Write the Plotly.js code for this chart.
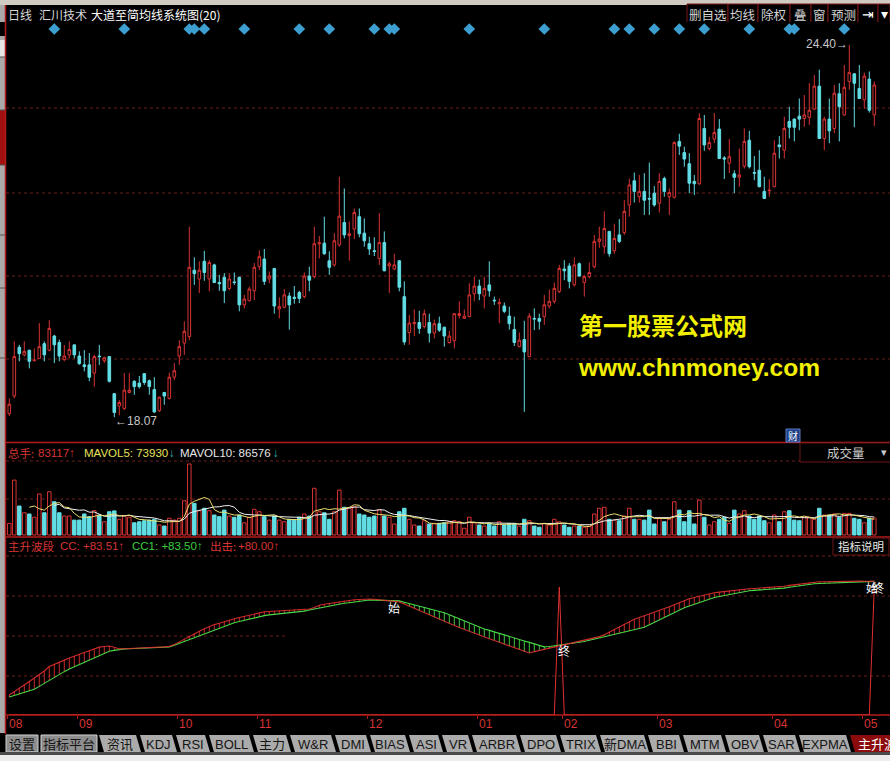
<!DOCTYPE html>
<html>
<head>
<meta charset="utf-8">
<script src="https://cdn.plot.ly/plotly-3.0.1.min.js"></script>
<style>
html,body{margin:0;padding:0;background:#000;overflow:hidden;}
#chart{width:890px;height:761px;}
</style>
</head>
<body>
<div id="chart"></div>
<script>
// ---- daily bars, 汇川技术 ----
const open = [18.13,18.43,19.26,19.13,19.21,19.03,19.07,19.32,19.21,19.45,
19.34,19.05,19.13,19.30,19.11,18.96,18.96,18.82,19.11,19.03,
19.10,18.47,18.26,18.22,18.49,18.68,18.65,18.81,18.69,18.54,
18.18,18.49,18.39,18.75,19.11,19.33,19.44,20.57,20.42,20.72,
20.42,20.66,20.36,20.45,20.26,20.37,20.45,19.98,20.05,20.22,
20.63,20.76,20.42,20.60,19.91,19.94,20.13,20.11,20.19,20.12,
20.47,20.46,21.02,21.03,20.73,20.66,21.00,21.38,21.16,21.27,
21.48,21.20,21.02,20.90,20.77,21.04,20.64,20.59,20.73,20.12,
19.51,19.66,19.68,19.61,19.68,19.50,19.66,19.60,19.34,19.37,
19.80,19.75,19.78,20.17,20.30,20.13,20.32,20.06,20.00,19.96,
19.79,19.56,19.27,19.39,19.10,19.75,19.75,19.78,19.96,20.04,
20.21,20.59,20.64,20.32,20.68,20.36,20.46,20.63,21.06,20.97,
21.23,20.90,21.17,21.21,21.68,22.09,21.82,21.91,21.79,21.88,
21.71,22.13,21.82,21.81,22.76,22.57,22.38,22.08,22.04,22.98,
22.64,22.80,22.97,22.48,22.39,22.21,22.15,22.34,22.78,22.23,
22.27,21.91,21.92,21.99,22.70,22.61,23.10,23.14,23.19,23.15,
23.17,23.31,23.70,22.81,23.14,22.98,23.57,23.21,23.78,23.91,
23.66,23.47,23.82,23.21];
const high = [18.39,19.36,19.30,19.36,19.21,19.24,19.67,19.36,19.72,19.47,
19.39,19.30,19.36,19.30,19.19,19.21,19.16,19.13,19.30,19.10,
19.11,18.48,18.36,18.82,18.82,18.70,18.77,18.82,18.71,18.75,
18.42,18.50,18.83,18.99,19.38,19.70,21.31,20.79,20.72,20.90,
20.74,20.68,20.49,20.52,20.52,20.53,20.46,20.15,20.29,20.69,
20.91,20.93,20.55,20.60,20.11,20.25,20.19,20.30,20.22,20.53,
20.63,21.31,21.15,21.48,20.89,21.20,22.16,21.96,21.40,21.62,
21.62,21.45,21.14,21.13,21.54,21.23,20.72,20.85,20.74,20.38,
19.81,19.90,19.88,19.90,19.83,19.73,19.78,19.61,19.54,19.84,
20.04,19.90,20.35,20.46,20.41,20.46,20.72,20.12,20.09,20.02,
19.95,19.78,19.51,19.71,19.84,19.92,19.83,20.15,20.24,20.36,
20.66,20.74,20.69,20.79,20.70,20.49,20.70,21.17,21.31,21.57,
21.23,21.36,21.44,21.76,22.13,22.23,22.19,22.22,22.40,22.00,
22.22,22.16,21.96,22.76,22.89,22.67,22.56,22.19,23.24,23.21,
22.84,23.24,23.14,22.51,22.80,22.27,22.64,22.98,22.94,22.51,
22.61,22.16,22.12,22.78,22.85,23.18,23.35,23.15,23.49,23.55,
23.75,23.89,23.98,23.18,23.49,23.72,23.75,24.06,24.40,23.92,
24.06,23.93,23.95,23.78];
const low = [18.09,18.39,19.02,19.10,18.90,19.02,19.07,19.02,19.19,18.99,
19.02,19.02,19.07,19.07,18.96,18.85,18.68,18.59,18.96,18.99,
18.66,18.07,18.10,18.19,18.48,18.45,18.56,18.62,18.45,18.14,
18.16,18.28,18.37,18.70,18.96,19.13,19.38,20.32,20.18,20.39,
20.21,20.36,20.22,20.01,20.23,20.32,19.87,19.92,20.04,20.06,
20.57,20.32,20.35,19.83,19.75,19.92,19.56,20.00,20.01,20.09,
20.21,20.43,20.77,20.83,20.49,20.63,20.97,21.11,20.73,21.10,
21.13,20.97,20.83,20.81,20.66,20.55,20.18,20.57,20.21,19.30,
19.30,19.45,19.49,19.58,19.34,19.41,19.52,19.27,19.32,19.24,
19.75,19.74,19.77,20.04,20.06,19.92,20.12,19.98,19.67,19.84,
19.56,19.28,19.26,18.16,19.09,19.55,19.56,19.64,19.92,20.00,
20.18,20.40,20.26,20.29,20.46,20.12,20.43,20.60,20.95,20.85,
20.80,20.85,21.03,21.17,21.48,21.72,21.72,21.51,21.51,21.65,
21.55,21.82,21.51,21.79,22.53,22.33,21.88,21.85,22.02,22.60,
22.61,22.73,22.46,22.12,22.22,21.88,21.99,22.30,22.30,22.10,
21.98,21.78,21.82,21.98,22.47,22.47,22.81,22.76,22.95,23.01,
23.04,23.29,22.80,22.61,22.73,22.90,22.76,23.20,23.64,23.00,
23.48,23.32,23.25,23.02];
const close = [18.29,19.10,19.15,19.19,19.02,19.04,19.27,19.13,19.58,19.30,
19.11,19.11,19.22,19.13,18.98,18.93,18.75,19.10,19.10,19.08,
18.68,18.15,18.32,18.53,18.53,18.59,18.59,18.66,18.59,18.16,
18.41,18.43,18.75,18.86,19.27,19.53,20.62,20.51,20.57,20.53,
20.70,20.36,20.34,20.22,20.42,20.36,19.98,20.08,20.25,20.62,
20.80,20.38,20.47,19.96,19.95,20.15,19.98,20.09,20.09,20.47,
20.40,21.02,21.04,20.85,20.62,21.07,21.49,21.17,21.19,21.55,
21.19,21.07,20.93,20.89,21.04,20.56,20.68,20.66,20.28,19.35,
19.67,19.68,19.58,19.83,19.50,19.66,19.55,19.45,19.45,19.83,
19.83,19.79,20.15,20.30,20.17,20.26,20.22,20.05,20.02,19.87,
19.66,19.34,19.38,19.18,19.79,19.74,19.70,19.98,20.04,20.26,
20.60,20.56,20.38,20.66,20.47,20.46,20.53,21.06,21.10,21.28,
20.85,21.11,21.06,21.57,22.02,21.91,21.91,21.76,21.78,21.68,
22.08,21.91,21.89,22.74,22.68,22.46,22.05,22.04,23.15,22.70,
22.74,22.91,22.47,22.46,22.50,22.15,22.19,22.76,22.33,22.22,
21.99,21.79,21.93,22.56,22.67,22.98,23.00,23.00,23.14,23.21,
23.29,23.70,22.81,23.14,22.94,23.58,23.35,23.68,23.93,23.75,
23.49,23.87,23.29,23.72];
// 总手 (lots)
const volume = [57000,269000,142000,109000,103000,87000,201000,109000,212000,163000,
109000,93000,93000,73000,73000,103000,90000,119000,98000,65000,
114000,118000,77000,93000,87000,60000,65000,70000,73000,77000,
49000,44000,82000,73000,82000,168000,348000,155000,119000,131000,
119000,98000,90000,122000,93000,87000,98000,60000,87000,126000,
114000,90000,73000,93000,73000,65000,77000,73000,87000,103000,
93000,229000,114000,109000,77000,114000,220000,136000,131000,139000,
103000,98000,87000,93000,122000,93000,87000,54000,114000,131000,
77000,49000,44000,70000,54000,57000,57000,60000,65000,70000,
65000,33000,87000,60000,49000,44000,57000,44000,65000,49000,
57000,57000,44000,77000,70000,44000,38000,57000,49000,77000,
65000,49000,38000,44000,44000,38000,44000,103000,131000,136000,
77000,73000,70000,93000,131000,77000,77000,73000,122000,54000,
82000,65000,77000,163000,122000,65000,119000,54000,171000,87000,
49000,65000,77000,87000,57000,122000,103000,119000,93000,77000,
93000,70000,60000,98000,65000,114000,119000,73000,70000,87000,
87000,77000,131000,98000,98000,103000,87000,106000,106000,82000,
77000,60000,82000,83117];
// 主升波段 indicator
const cc = [12.5,14.5,16.6,18.7,20.9,23.1,25.3,27.5,30.3,31.8,
33.0,34.3,35.6,36.9,38.1,39.1,40.2,41.3,42.4,42.8,
43.1,42.3,41.3,41.4,41.5,41.6,41.7,41.8,42.0,42.2,
42.4,42.6,42.9,44.0,45.7,47.4,49.5,51.0,52.4,53.9,
55.3,56.5,57.4,58.4,59.3,60.1,60.9,61.6,62.3,63.1,
63.8,64.5,64.7,64.9,65.1,65.3,65.5,65.7,65.9,66.1,
66.2,67.2,68.6,69.2,69.7,70.2,70.8,71.3,71.8,72.0,
72.2,72.4,72.5,72.3,72.0,71.7,71.3,71.0,70.7,69.4,
68.0,66.6,65.2,63.8,62.5,61.1,59.7,58.3,57.1,55.9,
54.7,53.6,52.4,51.2,50.0,48.9,47.7,46.5,45.4,44.2,
43.0,41.9,40.7,39.5,38.8,39.6,40.3,41.0,41.7,42.4,
43.1,43.8,44.4,45.1,45.8,46.6,47.4,48.2,49.0,50.2,
51.9,53.5,55.2,56.9,58.5,59.9,60.9,62.0,63.0,64.0,
65.1,66.2,67.6,68.9,70.3,71.7,72.6,73.4,74.2,75.0,
75.8,76.4,76.8,77.2,77.6,78.0,78.3,78.7,78.9,79.1,
79.3,79.5,79.7,79.9,80.1,80.5,81.0,81.4,81.9,82.4,
82.8,83.2,83.3,83.3,83.4,83.4,83.5,83.6,83.7,83.7,
83.7,83.6,83.55,83.51];
const cc1 = [11.2,12.1,13.0,14.0,14.9,16.1,17.9,19.8,21.6,23.5,
25.3,27.1,28.7,30.1,31.5,32.9,34.2,35.6,37.0,38.4,
39.8,40.4,40.9,41.3,41.4,41.5,41.7,41.8,41.9,42.1,
42.2,42.3,42.5,43.6,44.8,46.1,47.3,48.6,49.8,51.0,
52.1,53.2,54.4,55.5,56.7,57.7,58.4,59.2,59.9,60.6,
61.4,62.1,62.6,62.9,63.2,63.5,63.8,64.1,64.4,64.9,
65.6,66.2,66.9,67.5,68.2,68.9,69.3,69.8,70.2,70.7,
71.2,71.6,71.9,71.8,71.7,71.6,71.5,71.4,71.3,70.5,
69.7,68.8,68.0,67.2,66.3,65.5,64.7,63.9,62.6,61.3,
60.0,58.6,57.3,56.0,54.8,53.8,52.9,51.9,51.0,50.1,
49.1,48.2,47.3,46.3,45.4,44.5,43.6,42.6,42.8,43.2,
43.6,43.9,44.3,44.7,45.2,45.9,46.7,47.4,48.2,48.9,
49.6,50.3,51.1,51.9,52.6,53.4,54.1,54.9,56.4,58.0,
59.6,61.2,62.8,64.4,65.9,67.0,68.1,69.2,70.3,71.4,
72.5,73.4,74.1,74.7,75.4,76.1,76.7,77.4,77.7,77.9,
78.1,78.3,78.5,78.7,78.9,79.3,79.8,80.3,80.7,81.2,
81.6,82.0,82.2,82.3,82.5,82.6,82.8,82.9,83.1,83.2,
83.4,83.5,83.5,83.50];
const strikeBars = [110, 173];   // 出击 signal bars
const strikeLevel = 80;
const startBars = [77, 173];     // 始
const endBars = [111, 173];      // 终
const newsBars = [9,23,36,37,39,47,58,64,73,76,77,92,107,121,124,129,134,139,148,156,157,167];
const monthLabels = ['08','09','10','11','12','01','02','03','04','05'];
const monthStart = [0,14,34,50,72,94,111,130,153,171];
const tabLabels = ['设置','指标平台','资讯','KDJ','RSI','BOLL','主力','W&R','DMI','BIAS','ASI','VR','ARBR','DPO','TRIX','新DMA','BBI','MTM','OBV','SAR','EXPMA','主升波段'];
const toolLabels = ['删自选','均线','除权','叠','窗','预测','⇥','▾'];

// ---- page geometry (pixels) ----
const W = 890, H = 761;
const px = x => x / W;
const py = y => 1 - y / H;

const RED = '#d83434', CYAN = '#62dde4', FRAME = '#b41a1a', GRID = '#6a1c1c';
const CJK = 'Noto Sans CJK SC, Liberation Sans, sans-serif';
const LAT = 'Liberation Sans, Noto Sans CJK SC, sans-serif';

const idx = close.map((_, i) => i);
const isUp = close.map((c, i) => c >= open[i]);

// moving averages of volume
function movingAvg(arr, n) {
  return arr.map((_, i) => {
    if (i < n - 1) return null;
    let s = 0;
    for (let k = i - n + 1; k <= i; k++) s += arr[k];
    return s / n;
  });
}
const mavol5 = movingAvg(volume, 5);
const mavol10 = movingAvg(volume, 10);

// hatch segments between CC and CC1
const hatchRedX = [], hatchRedY = [], hatchGrnX = [], hatchGrnY = [];
idx.forEach(i => {
  if (cc[i] >= cc1[i]) { hatchRedX.push(i, i, null); hatchRedY.push(cc1[i], cc[i], null); }
  else { hatchGrnX.push(i, i, null); hatchGrnY.push(cc[i], cc1[i], null); }
});
const strike = idx.map(i => strikeBars.includes(i) ? strikeLevel : 0);

const traces = [
  {
    type: 'candlestick', x: idx, open: open, high: high, low: low, close: close,
    xaxis: 'x', yaxis: 'y',
    increasing: {line: {color: RED, width: 1}, fillcolor: '#000000'},
    decreasing: {line: {color: CYAN, width: 1}, fillcolor: CYAN},
    whiskerwidth: 0, hoverinfo: 'skip'
  },
  {
    type: 'scatter', mode: 'markers', x: newsBars, y: newsBars.map(() => 0.5),
    xaxis: 'x', yaxis: 'y4',
    marker: {symbol: 'diamond', size: 9, color: '#3d9fcf'}, hoverinfo: 'skip'
  },
  {
    type: 'bar', x: idx, y: volume, xaxis: 'x', yaxis: 'y2', width: 0.7,
    marker: {color: isUp.map(u => u ? '#000000' : CYAN),
             line: {color: isUp.map(u => u ? RED : CYAN), width: 1}},
    hoverinfo: 'skip'
  },
  {type: 'scatter', mode: 'lines', x: idx, y: mavol10, xaxis: 'x', yaxis: 'y2',
   line: {color: '#f2f2f2', width: 1}, hoverinfo: 'skip'},
  {type: 'scatter', mode: 'lines', x: idx, y: mavol5, xaxis: 'x', yaxis: 'y2',
   line: {color: '#ece070', width: 1}, hoverinfo: 'skip'},
  {type: 'scatter', mode: 'lines', x: hatchRedX, y: hatchRedY, xaxis: 'x', yaxis: 'y3',
   line: {color: '#c62828', width: 1}, hoverinfo: 'skip'},
  {type: 'scatter', mode: 'lines', x: hatchGrnX, y: hatchGrnY, xaxis: 'x', yaxis: 'y3',
   line: {color: '#3ec83e', width: 1}, hoverinfo: 'skip'},
  {type: 'scatter', mode: 'lines', x: idx, y: strike, xaxis: 'x', yaxis: 'y3',
   line: {color: '#e03030', width: 1}, hoverinfo: 'skip'},
  {type: 'scatter', mode: 'lines', x: idx, y: cc1, xaxis: 'x', yaxis: 'y3',
   line: {color: '#48d848', width: 1.1}, hoverinfo: 'skip'},
  {type: 'scatter', mode: 'lines', x: idx, y: cc, xaxis: 'x', yaxis: 'y3',
   line: {color: '#e03030', width: 1.1}, opacity: 0.9, hoverinfo: 'skip'}
];

// ---- frame, grid, tab bar ----
const shapes = [];
const rect = (x0, y0, x1, y1, fill, line, lw) => shapes.push({
  type: 'rect', xref: 'paper', yref: 'paper', x0: px(x0), x1: px(x1), y0: py(y1), y1: py(y0),
  fillcolor: fill, line: {color: line || 'rgba(0,0,0,0)', width: lw || 0}, layer: 'below'
});
const hline = (y, x0, x1, color, w, dash) => shapes.push({
  type: 'line', xref: 'paper', yref: 'paper', x0: px(x0), x1: px(x1), y0: py(y), y1: py(y),
  line: {color: color, width: w, dash: dash || 'solid'}, layer: 'below'
});
const vline = (x, y0, y1, color, w) => shapes.push({
  type: 'line', xref: 'paper', yref: 'paper', x0: px(x), x1: px(x), y0: py(y0), y1: py(y1),
  line: {color: color, width: w}
});

// top strip and left edge
rect(0, 0, 890, 5, '#cfcbc3');
rect(0, 5, 5, 734, '#a9a9a9');
rect(0, 40, 5, 57, '#e6e6e6');
rect(0, 110, 5, 165, '#a01010');
[57, 110, 165, 235, 288, 358].forEach(y => shapes.push({type: 'line', xref: 'paper', yref: 'paper',
  x0: 0, x1: px(5), y0: py(y), y1: py(y), line: {color: '#555', width: 1}}));

// dotted grid
[29, 108, 193, 276, 359, 461, 499, 556, 596, 676].forEach(y => hline(y, 6, 890, GRID, 1, 'dot'));
hline(636, 6, 285, GRID, 1, 'dot');

// panel frame
vline(5.5, 5, 734, FRAME, 1.5);
hline(442.5, 5, 890, FRAME, 1.5);
hline(537, 5, 890, FRAME, 1.5);
hline(715, 5, 890, FRAME, 1.5);

// top-right tool buttons
const toolEdges = [687, 728, 758, 790, 811, 828, 858, 878, 890];
toolLabels.forEach((t, k) => rect(toolEdges[k], 4, toolEdges[k + 1], 24, '#000000', '#7a1616', 1));

// 成交量 and 指标说明 boxes
rect(800, 443, 891, 462, '#000000', '#6e1616', 1);
rect(833, 538, 889, 555, '#000000', '#6e1616', 1);
// 财 badge
rect(786, 429, 800, 442, '#1d3f86', '#5a78c0', 1);

// bottom tab bar
rect(0, 733, 890, 753, '#000000');
const tabEdges = [5, 38, 40, 97, 98, 139, 175, 208, 252, 289, 334, 369, 408, 441, 471, 519, 559, 599, 647, 682, 724, 762, 798, 849, 896];
const tabCenters = [];
tabLabels.forEach((t, k) => {
  let l, r;
  if (k === 0) { l = tabEdges[0]; r = tabEdges[1]; }
  else if (k === 1) { l = tabEdges[2]; r = tabEdges[3]; }
  else { l = tabEdges[k + 2]; r = tabEdges[k + 3]; }
  const active = k === tabLabels.length - 1;
  if (k < 2) {
    rect(l + 1, 735, r, 752, '#8e8e8e', '#d0d0d0', 1);
  } else {
    const top = 735, bot = 752;
    shapes.push({type: 'path', xref: 'paper', yref: 'paper',
      path: `M ${px(l + 1)},${py(top)} L ${px(r - 3)},${py(top)} L ${px(r + 2)},${py(bot)} L ${px(l + 6)},${py(bot)} Z`,
      fillcolor: active ? '#8c0b0b' : '#ababab', line: {width: 0}, layer: 'below'});
  }
  tabCenters.push((l + r) / 2 + (k < 2 ? 0 : 1.5));
});
rect(0, 752, 890, 755, '#4a4a4a');
rect(0, 755, 890, 761, '#ececec');

// ---- text ----
const annotations = [];
const txt = (x, y, text, color, size, family, anchor, extra) => annotations.push(Object.assign({
  xref: 'paper', yref: 'paper', x: px(x), y: py(y), text: text, showarrow: false,
  xanchor: anchor || 'left', yanchor: 'middle',
  font: {color: color, size: size, family: family || CJK}
}, extra || {}));

// title row
txt(6, 15, '日线', '#d8d8d8', 12);
txt(37, 15, '汇川技术', '#d8d8d8', 12);
txt(89, 15, '大道至简均线系统图(20)', '#ffffff', 12);
toolLabels.forEach((t, k) => {
  const c = (toolEdges[k] + toolEdges[k + 1]) / 2;
  const isIcon = k >= 6;
  txt(c, 14, t, isIcon ? '#ffffff' : '#d4d4d4', isIcon ? 14 : 12.5, isIcon ? 'DejaVu Sans' : CJK, 'center');
});

// volume header
txt(6, 453, '总手:', RED, 11.5);
txt(36, 453, '83117↑', RED, 11.5, LAT);
txt(82, 453, 'MAVOL5: 73930', '#e6e05a', 11.5, LAT);
txt(167, 453, '↓', '#3cc0c8', 11.5, LAT);
txt(178, 453, 'MAVOL10: 86576', '#e6e6e6', 11.5, LAT);
txt(271, 453, '↓', '#3cc0c8', 11.5, LAT);
txt(846, 452, '成交量', '#c8c8c8', 12.5, CJK, 'center');
txt(884, 452, '▾', '#c8c8c8', 11, 'DejaVu Sans', 'center');
txt(793, 435.5, '财', '#ffffff', 10, CJK, 'center');

// indicator header
txt(6, 546, '主升波段', RED, 11.5);
txt(58, 546, 'CC: +83.51↑', RED, 11.5, LAT);
txt(130, 546, 'CC1: +83.50↑', '#3ccf3c', 11.5, LAT);
txt(208, 546, '出击:', RED, 11.5);
txt(236, 546, '+80.00↑', RED, 11.5, LAT);
txt(861, 546, '指标说明', '#e8e8e8', 11.5, CJK, 'center');

// watermark in price panel
txt(577, 325, '第一股票公式网', '#f2f000', 24, CJK, 'left', {font: {color: '#f2f000', size: 24, family: CJK, weight: 700}});
txt(576, 367, 'www.chnmoney.com', '#f2f000', 24, LAT, 'left', {font: {color: '#f2f000', size: 24.5, family: LAT, weight: 700}});

// extreme price marks
const hiBar = high.indexOf(Math.max(...high));
const loBar = low.indexOf(Math.min(...low));
annotations.push({xref: 'x', yref: 'y', x: hiBar, y: high[hiBar], text: high[hiBar].toFixed(2) + '→',
  showarrow: false, xanchor: 'right', yanchor: 'middle', xshift: 1, yshift: 1,
  font: {color: '#c8c8c8', size: 12, family: LAT}});
annotations.push({xref: 'x', yref: 'y', x: loBar, y: low[loBar], text: '←' + low[loBar].toFixed(2),
  showarrow: false, xanchor: 'left', yanchor: 'middle', xshift: -1, yshift: -4,
  font: {color: '#c8c8c8', size: 12, family: LAT}});

// 始 / 终 marks
startBars.forEach(b => annotations.push({xref: 'x', yref: 'y3', x: b, y: cc[b], text: '始', showarrow: false,
  yshift: -6, xshift: b === 173 ? -2 : 0, font: {color: '#ffffff', size: 12, family: CJK}}));
endBars.forEach(b => annotations.push({xref: 'x', yref: 'y3', x: b, y: cc[b], text: '终', showarrow: false,
  yshift: -6, xshift: b === 173 ? 4 : 0, font: {color: '#ffffff', size: 12, family: CJK}}));

// month labels
monthLabels.forEach((m, k) => annotations.push({xref: 'x', yref: 'paper', x: monthStart[k] - 0.4, y: py(724),
  text: m, showarrow: false, xanchor: 'left', yanchor: 'middle', xshift: 0,
  font: {color: RED, size: 12, family: LAT}}));

// tab labels (the last, active tab runs past the right edge)
tabLabels.forEach((t, k) => {
  const active = k === tabLabels.length - 1;
  if (active) txt(856, 744, t, '#ffffff', 13, LAT, 'left');
  else txt(tabCenters[k], 744, t, '#151515', 13, LAT, 'center');
});

const axisOff = {showgrid: false, zeroline: false, showticklabels: false, showline: false, fixedrange: true};
const layout = {
  width: W, height: H,
  margin: {l: 0, r: 0, t: 0, b: 0, pad: 0},
  paper_bgcolor: '#000000', plot_bgcolor: '#000000',
  showlegend: false, hovermode: false, dragmode: false,
  boxgap: 0.25,
  xaxis: Object.assign({}, axisOff, {
    domain: [0, 1], range: [-1.86, 176.14], anchor: 'y3',
    rangeslider: {visible: false},
    ticks: 'outside', ticklen: 3, tickcolor: FRAME, tickwidth: 1,
    tickmode: 'array', tickvals: monthStart.map(m => m - 0.4)
  }),
  yaxis: Object.assign({}, axisOff, {domain: [py(442), py(25)], range: [17.648, 24.740], anchor: 'x'}),
  yaxis2: Object.assign({}, axisOff, {domain: [py(536), py(444)], range: [-4900, 445900], anchor: 'x'}),
  yaxis3: Object.assign({}, axisOff, {domain: [py(715), py(538)], range: [0, 110.625], anchor: 'x'}),
  yaxis4: Object.assign({}, axisOff, {domain: [py(36), py(22)], range: [0, 1], anchor: 'x'}),
  shapes: shapes,
  annotations: annotations
};

Plotly.newPlot('chart', traces, layout, {staticPlot: true, displayModeBar: false});
</script>
</body>
</html>
